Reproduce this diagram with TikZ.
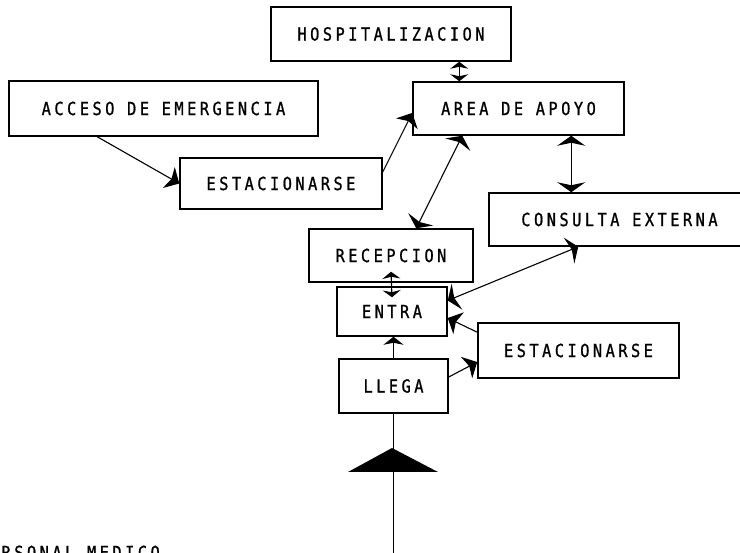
\documentclass[tikz,border=0pt]{standalone}
\usepackage{fontspec}
\newfontfamily\plotfont[FakeStretch=0.85,LetterSpace=19.4,FakeBold=1]{DejaVu Sans Mono}
\usetikzlibrary{arrows.meta}
\tikzset{
  box/.style={draw, line width=1.5pt, rectangle, inner sep=0pt, align=center,
    font=\plotfont\fontsize{18}{20}\selectfont},
  conn/.style={line width=1.1pt},
  bigtip/.style={-{Stealth[length=12pt,width=24pt,inset=3pt]}},
  dbltip/.style={{Stealth[length=10pt,width=28pt,inset=3pt]}-{Stealth[length=10pt,width=28pt,inset=3pt]}},
  smalldbl/.style={{Stealth[length=7pt,width=18pt,inset=2pt]}-{Stealth[length=7pt,width=18pt,inset=2pt]}},
  lbl/.style={inner sep=0pt, font=\plotfont\fontsize{18}{20}\selectfont}
}
\begin{document}
\begin{tikzpicture}[x=1pt,y=-1pt]
\useasboundingbox (0,0) rectangle (740,553);
\clip (0,0) rectangle (740,553);
\fill[white] (0,0) rectangle (740,553);
% boxes
\node[box, minimum width=240pt, minimum height=54pt] (hosp) at (391,34) {HOSPITALIZACION};
\node[box, minimum width=211pt, minimum height=53pt] (apoyo) at (518.5,108.5) {AREA DE APOYO};
\node[box, minimum width=309pt, minimum height=55pt] (acceso) at (163.5,108.5) {ACCESO DE EMERGENCIA};
\node[box, minimum width=202pt, minimum height=51pt] (estL) at (281,183.5) {ESTACIONARSE};
\node[box, minimum width=164pt, minimum height=53pt] (recep) at (391,255.5) {RECEPCION};
\node[box, minimum width=110pt, minimum height=49pt] (entra) at (392,311.5) {ENTRA};
\node[box, minimum width=109pt, minimum height=54pt] (llega) at (393.5,386) {LLEGA};
\node[box, minimum width=261pt, minimum height=53pt] (consulta) at (619.5,219.5) {CONSULTA EXTERNA};
\node[box, minimum width=201pt, minimum height=55pt] (estR) at (578.5,350.5) {ESTACIONARSE};
\node[lbl, anchor=base west] (pm) at (-24,559) {PERSONAL MEDICO};
\coordinate (bot) at (393.5,560);
% connectors
\draw[conn,bigtip] ([xshift=89pt]acceso.south west) -- (estL.west);
\draw[conn,bigtip] ([yshift=11.5pt]estL.east) -- ([yshift=-4.5pt]apoyo.west);
\draw[conn,dbltip] ([xshift=50pt]apoyo.south west) -- ([xshift=108pt]recep.north west);
\draw[conn,smalldbl] ([xshift=189pt]hosp.south west) -- ([xshift=47pt]apoyo.north west);
\draw[conn,dbltip] ([xshift=159pt]apoyo.south west) -- ([xshift=83pt]consulta.north west);
\draw[conn,smalldbl] ([yshift=11pt]recep.south) -- ([yshift=-11pt]entra.north);
\draw[conn,-{Stealth[length=8pt,width=20pt,inset=2pt]}] (llega.north) -- (llega.north |- entra.south);
\draw[conn,dbltip] ([yshift=11pt]entra.east) -- ([xshift=90pt]consulta.south west);
\draw[conn,bigtip] ([yshift=-10pt]estR.north west) -- ([yshift=-6.5pt]entra.east);
\draw[conn,bigtip] ([yshift=9pt]llega.east) -- ([yshift=-11.5pt]estR.west);
\draw[conn] (llega.south) -- (bot);
\fill (392,448) -- (438,472) -- (348,472) -- cycle;
\end{tikzpicture}
\end{document}
